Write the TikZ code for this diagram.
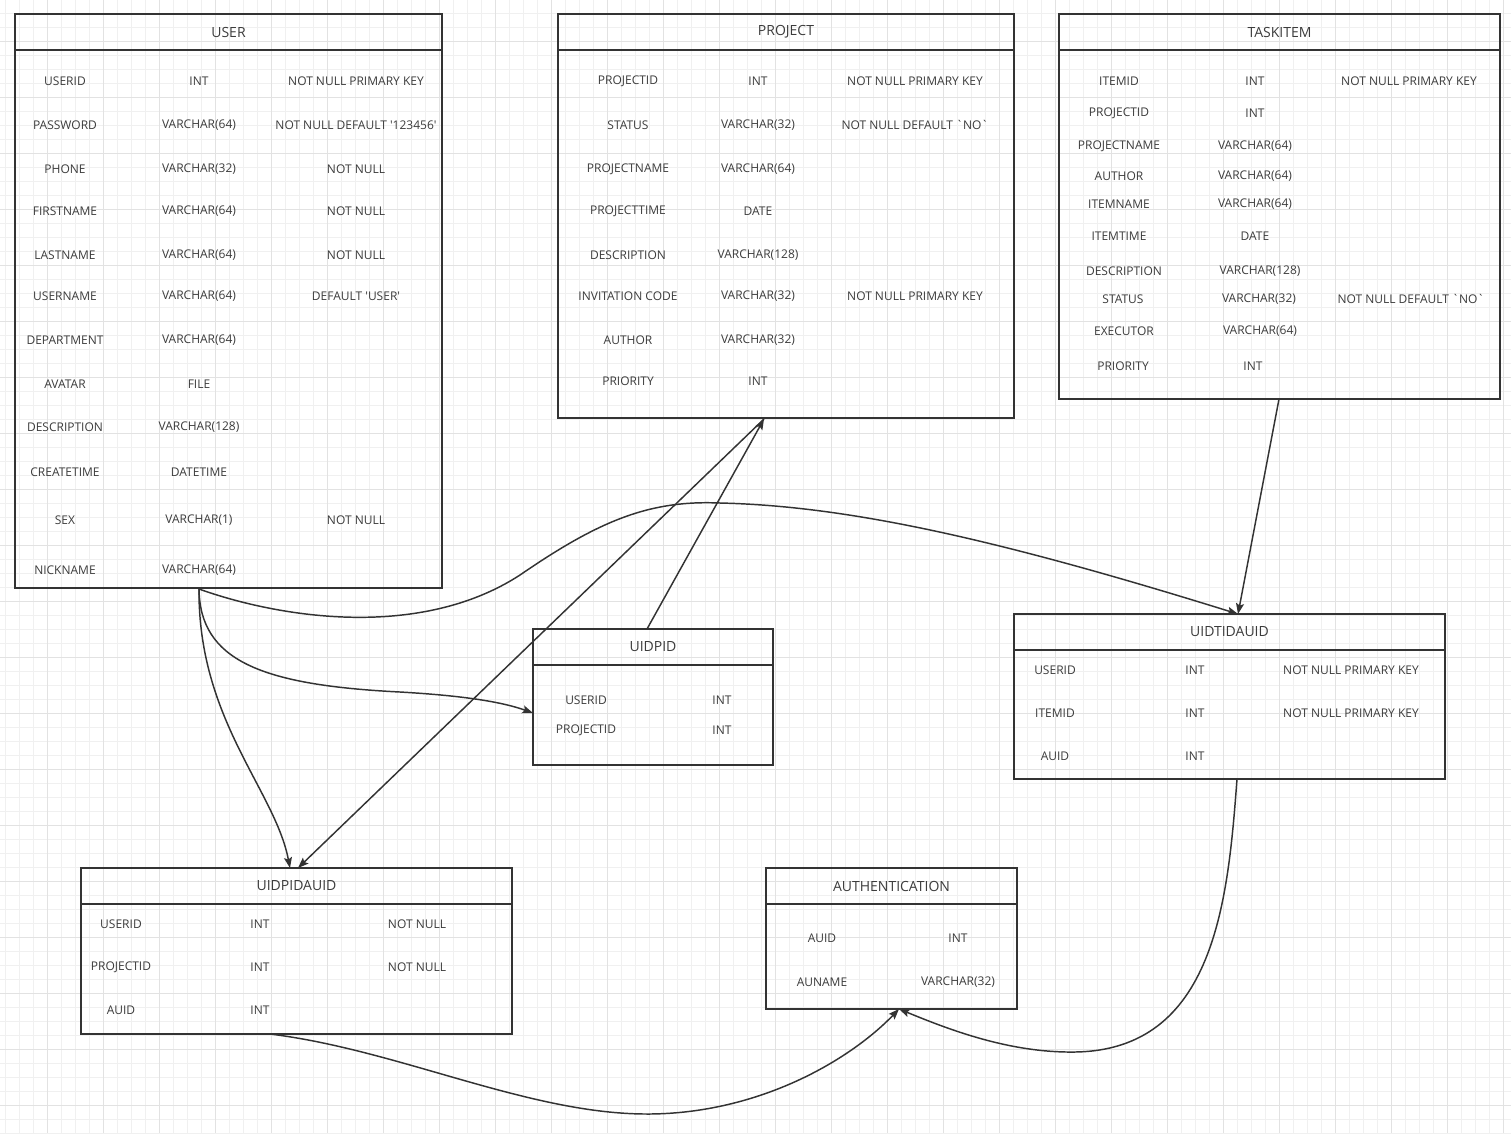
\documentclass[tikz,border=0pt]{standalone}
\usepackage{fontspec}
\setmainfont{Open Sans}[Ligatures=TeXOff]
\usetikzlibrary{arrows.meta,fit}
\definecolor{edgegray}{HTML}{333333}
\definecolor{txtgray}{HTML}{3C3C3C}
\definecolor{gridfine}{HTML}{F0F0F0}
\definecolor{gridbold}{HTML}{E2E2E2}
\tikzset{
  erbox/.style={draw=edgegray, line width=1.3pt, inner sep=0pt},
  fld/.style={font=\fontsize{9}{10}\selectfont, text=txtgray, inner sep=1pt},
  ttl/.style={font=\fontsize{10.5}{12}\selectfont, text=txtgray, inner sep=1pt},
  rel/.style={draw=edgegray, line width=1.1pt, -{Stealth[length=8pt,width=6pt,inset=1.5pt]}},
}
% table: name, x1, y1, x2, y2, title
\newcommand\ertable[6]{%
  \node[erbox, fit={(#2,#3)(#4,#5)}] (#1) {};
  \draw[edgegray, line width=1.3pt] (#2,{#3+36}) -- (#4,{#3+36});
  \node[ttl] (#1-title) at ({(#2+#4)/2},{#3+18}) {#6};
}

\begin{document}
\begin{tikzpicture}[x=0.75pt,y=-0.75pt]
  %%%%% GRID %%%%%
  \fill[white] (0,0) rectangle (1511,1133);
  \useasboundingbox (0,0) rectangle (1511,1133);
  \foreach \gx in {5,19,...,1511} \draw[gridfine, line width=0.75pt] (\gx,0) -- (\gx,1133);
  \foreach \gy in {13,27,...,1133} \draw[gridfine, line width=0.75pt] (0,\gy) -- (1511,\gy);
  \foreach \gx in {47,103,...,1511} \draw[gridbold, line width=0.75pt] (\gx,0) -- (\gx,1133);
  \foreach \gy in {41,97,...,1133} \draw[gridbold, line width=0.75pt] (0,\gy) -- (1511,\gy);

  %%%%% USER %%%%%
  \ertable{user}{15}{14}{442}{588}{USER}
  \foreach \fy/\ftext [count=\k] in {81/USERID,125/PASSWORD,169/PHONE,211/FIRSTNAME,255/LASTNAME,296/USERNAME,340/DEPARTMENT,384/AVATAR,427/DESCRIPTION,472/CREATETIME,520/SEX,570/NICKNAME}
    \node[fld] (user-n\k) at (65,\fy) {\ftext};
  \foreach \fy/\ftext [count=\k] in {81/INT,125/VARCHAR(64),169/VARCHAR(32),211/VARCHAR(64),255/VARCHAR(64),296/VARCHAR(64),340/VARCHAR(64),384/FILE,427/VARCHAR(128),472/DATETIME,520/VARCHAR(1),570/VARCHAR(64)}
    \node[fld] (user-t\k) at (199,\fy) {\ftext};
  \foreach \fy/\ftext [count=\k] in {81/NOT NULL PRIMARY KEY,125/NOT NULL DEFAULT '123456',169/NOT NULL,211/NOT NULL,255/NOT NULL,296/DEFAULT 'USER',520/NOT NULL}
    \node[fld] (user-c\k) at (356,\fy) {\ftext};

  %%%%% PROJECT %%%%%
  \ertable{project}{558}{14}{1014}{418}{PROJECT}
  \foreach \fy/\ftext [count=\k] in {81/PROJECTID,125/STATUS,169/PROJECTNAME,211/PROJECTTIME,255/DESCRIPTION,296/INVITATION CODE,340/AUTHOR,381/PRIORITY}
    \node[fld] (project-n\k) at (628,\fy) {\ftext};
  \foreach \fy/\ftext [count=\k] in {81/INT,125/VARCHAR(32),169/VARCHAR(64),211/DATE,255/VARCHAR(128),296/VARCHAR(32),340/VARCHAR(32),381/INT}
    \node[fld] (project-t\k) at (758,\fy) {\ftext};
  \foreach \fy/\ftext [count=\k] in {81/NOT NULL PRIMARY KEY,125/NOT NULL DEFAULT `NO`,296/NOT NULL PRIMARY KEY}
    \node[fld] (project-c\k) at (915,\fy) {\ftext};

  %%%%% TASKITEM %%%%%
  \ertable{taskitem}{1059}{14}{1500}{399}{TASKITEM}
  \foreach \fx/\fy/\ftext [count=\k] in {1119/81/ITEMID,1119/113/PROJECTID,1119/146/PROJECTNAME,1119/176/AUTHOR,1119/204/ITEMNAME,1119/236/ITEMTIME,1124/271/DESCRIPTION,1123/299/STATUS,1124/331/EXECUTOR,1123/366/PRIORITY}
    \node[fld] (taskitem-n\k) at (\fx,\fy) {\ftext};
  \foreach \fx/\fy/\ftext [count=\k] in {1255/81/INT,1255/113/INT,1255/146/VARCHAR(64),1255/176/VARCHAR(64),1255/204/VARCHAR(64),1255/236/DATE,1260/271/VARCHAR(128),1259/299/VARCHAR(32),1260/331/VARCHAR(64),1253/366/INT}
    \node[fld] (taskitem-t\k) at (\fx,\fy) {\ftext};
  \node[fld] (taskitem-c1) at (1409,81) {NOT NULL PRIMARY KEY};
  \node[fld] (taskitem-c2) at (1411,299) {NOT NULL DEFAULT `NO`};

  %%%%% UIDPID %%%%%
  \ertable{uidpid}{533}{629}{773}{765}{UIDPID}
  \node[fld] (uidpid-n1) at (586,700) {USERID};
  \node[fld] (uidpid-t1) at (722,700) {INT};
  \node[fld] (uidpid-n2) at (586,730) {PROJECTID};
  \node[fld] (uidpid-t2) at (722,730) {INT};

  %%%%% UIDTIDAUID %%%%%
  \ertable{uidtidauid}{1014}{614}{1445}{779}{UIDTIDAUID}
  \foreach \fy/\fn/\ft [count=\k] in {670/USERID/INT,713/ITEMID/INT,756/AUID/INT}{
    \node[fld] (uidtidauid-n\k) at (1055,\fy) {\fn};
    \node[fld] (uidtidauid-t\k) at (1195,\fy) {\ft};
  }
  \node[fld] (uidtidauid-c1) at (1351,670) {NOT NULL PRIMARY KEY};
  \node[fld] (uidtidauid-c2) at (1351,713) {NOT NULL PRIMARY KEY};

  %%%%% UIDPIDAUID %%%%%
  \ertable{uidpidauid}{81}{868}{512}{1034}{UIDPIDAUID}
  \foreach \fy/\fn/\ft [count=\k] in {924/USERID/INT,967/PROJECTID/INT,1010/AUID/INT}{
    \node[fld] (uidpidauid-n\k) at (121,\fy) {\fn};
    \node[fld] (uidpidauid-t\k) at (260,\fy) {\ft};
  }
  \node[fld] (uidpidauid-c1) at (417,924) {NOT NULL};
  \node[fld] (uidpidauid-c2) at (417,967) {NOT NULL};

  %%%%% AUTHENTICATION %%%%%
  \ertable{auth}{766}{868}{1017}{1009}{AUTHENTICATION}
  \node[fld] (auth-n1) at (822,938) {AUID};
  \node[fld] (auth-t1) at (958,938) {INT};
  \node[fld] (auth-n2) at (822,982) {AUNAME};
  \node[fld] (auth-t2) at (958,982) {VARCHAR(32)};

  %%%%% PORTS %%%%%
  \coordinate (user-out) at (199,589);
  \coordinate (project-in) at (764,419);
  \coordinate (taskitem-out) at (1279,399);
  \coordinate (uidpid-in) at (533,713);
  \coordinate (uidpid-out) at (647,629);
  \coordinate (uidtidauid-in) at (1238,614);
  \coordinate (uidtidauid-out) at (1237,779);
  \coordinate (uidpidauid-ina) at (290,868);
  \coordinate (uidpidauid-inb) at (298,868);
  \coordinate (uidpidauid-out) at (270,1034);
  \coordinate (auth-in) at (899,1009);

  %%%%% RELATIONS %%%%%
  \draw[rel] (user-out) .. controls (280,618) and (420,640) .. (520,575)
    .. controls (600,520) and (650,500) .. (720,503)
    .. controls (850,506) and (1000,540) .. (uidtidauid-in);
  \draw[rel] (user-out) .. controls (200,660) and (260,685) .. (400,692)
    .. controls (470,696) and (505,703) .. (uidpid-in);
  \draw[rel] (user-out) .. controls (198,720) and (275,790) .. (uidpidauid-ina);
  \draw[rel] (project-in) -- (uidpidauid-inb);
  \draw[rel] (uidpid-out) -- (project-in);
  \draw[rel] (taskitem-out) -- (uidtidauid-in);
  \draw[rel] (uidpidauid-out) .. controls (400,1050) and (530,1115) .. (650,1114)
    .. controls (760,1113) and (850,1060) .. (auth-in);
  \draw[rel] (uidtidauid-out) .. controls (1228,900) and (1215,1050) .. (1075,1052)
    .. controls (1010,1053) and (950,1030) .. (auth-in);
\end{tikzpicture}
\end{document}
